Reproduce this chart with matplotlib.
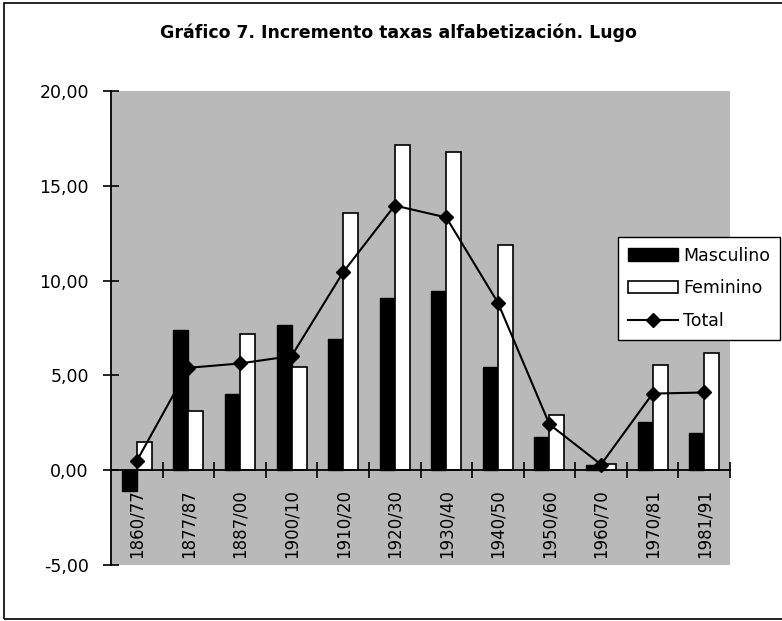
import matplotlib
matplotlib.use("Agg")
import matplotlib.pyplot as plt
from matplotlib.patches import Rectangle
from matplotlib.lines import Line2D
import numpy as np

periodos = ["1860/77", "1877/87", "1887/00", "1900/10", "1910/20", "1920/30",
            "1930/40", "1940/50", "1950/60", "1960/70", "1970/81", "1981/91"]
masculino = [-1.12, 7.38, 4.02, 7.65, 6.93, 9.09, 9.47, 5.42, 1.77, 0.26, 2.53, 1.98]
feminino = [1.49, 3.12, 7.20, 5.46, 13.54, 17.14, 16.76, 11.89, 2.91, 0.33, 5.56, 6.19]
total = [0.49, 5.40, 5.63, 6.02, 10.44, 13.96, 13.33, 8.84, 2.42, 0.30, 4.04, 4.10]
y_ticks = [-5, 0, 5, 10, 15, 20]

plt.rcParams['font.family'] = ['DejaVu Sans']

fig = plt.figure(figsize=(7.82, 6.21), dpi=100)
ax = fig.add_axes([111 / 782, 1 - 565 / 621, 619 / 782, 474 / 621])
ax.set_facecolor('#b9b9b9')

x = np.arange(len(periodos))
w = 0.29
ax.bar(x - w / 2, masculino, w, color='black', edgecolor='black', linewidth=1, zorder=2)
ax.bar(x + w / 2, feminino, w, color='white', edgecolor='black', linewidth=1.2, zorder=2)
ax.plot(x, total, color='black', linewidth=1.5, marker='D', markersize=7, zorder=3)

ax.set_xlim(-0.5, len(periodos) - 0.5)
ax.set_ylim(-5, 20)

# eixos
for s in ['top', 'right']:
    ax.spines[s].set_visible(False)
ax.spines['bottom'].set_position(('data', 0))
ax.spines['bottom'].set_linewidth(1.3)
ax.spines['left'].set_linewidth(1.3)
ax.spines['bottom'].set_zorder(4)

ax.set_xticks(np.arange(len(periodos)) + 0.5)
ax.set_xticklabels([])
ax.tick_params(axis='x', direction='inout', length=11, width=1.2)

ax.set_yticks(y_ticks)
ax.set_yticklabels([f"{v:.2f}".replace('.', ',') for v in y_ticks], fontsize=12.5)
ax.tick_params(axis='y', direction='inout', length=12, width=1.2, pad=10)

for i, lab in enumerate(periodos):
    ax.text(i, -1.0, lab, rotation=90, ha='center', va='top', fontsize=12, zorder=5)

fig.text(0.51, 1 - 33 / 621, "Gráfico 7. Incremento taxas alfabetización. Lugo",
         ha='center', va='center', fontsize=12.5, fontweight='bold')

handles = [Rectangle((0, 0), 1, 1, facecolor='black', edgecolor='black'),
           Rectangle((0, 0), 1, 1, facecolor='white', edgecolor='black', linewidth=1.2),
           Line2D([], [], color='black', linewidth=1.5, marker='D', markersize=7)]
leg = fig.legend(handles, ["Masculino", "Feminino", "Total"],
                 loc='upper left', bbox_to_anchor=(618 / 782, 1 - 237 / 621),
                 fontsize=12.5, frameon=True, fancybox=False, framealpha=1,
                 edgecolor='black', borderpad=0.55, labelspacing=0.85,
                 handlelength=2.9, handletextpad=0.3, borderaxespad=0)
leg.get_frame().set_linewidth(1.0)

# marco exterior
fig.patches.append(Rectangle((4 / 782, 2 / 621), 790 / 782, 616 / 621, transform=fig.transFigure,
                             fill=False, edgecolor='black', linewidth=1.2))

fig.savefig("out.png", dpi=100)
